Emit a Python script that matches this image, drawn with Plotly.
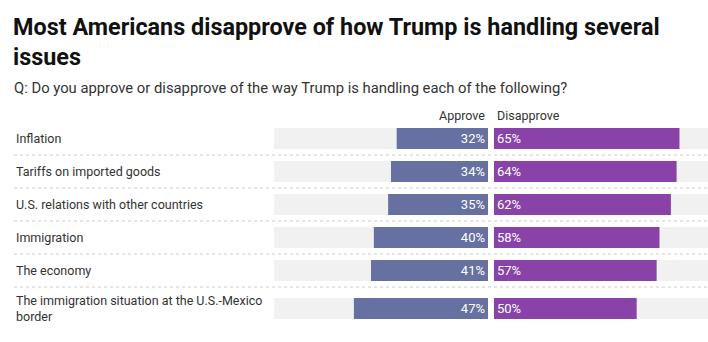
import plotly.graph_objects as go

# Survey data
issues = [
    "Inflation",
    "Tariffs on imported goods",
    "U.S. relations with other countries",
    "Immigration",
    "The economy",
    "The immigration situation at the U.S.-Mexico<br>border",
]
approve = [32, 34, 35, 40, 41, 47]
disapprove = [65, 64, 62, 58, 57, 50]
scale_max = 75

# Styling
W, H = 708, 342
APPROVE_COLOR = "#6670a1"
DISAPPROVE_COLOR = "#8842a8"
TRACK_COLOR = "#f1f1f1"
TEXT_COLOR = "#333333"
FONT = "Roboto"

ROW_H = 33          # height of a single-line row, px
LINE_EXTRA = 10     # extra height for every additional label line, px
BAR_H = 21
TOP = 122           # top of the first row, px

# Row geometry derived from the number of label lines
row_heights = [ROW_H + LINE_EXTRA * s.count("<br>") for s in issues]
centers, edges = [], []
acc = 0
for h in row_heights:
    centers.append(acc + h / 2)
    acc += h
    edges.append(acc)
total_h = acc


def px(x):
    return x / W


def py(y):
    return 1 - y / H


fig = go.Figure()

track = [scale_max] * len(issues)

# Left panel (approve), drawn towards the left
fig.add_trace(go.Bar(
    y=centers, x=track, orientation="h", width=BAR_H,
    marker=dict(color=TRACK_COLOR, line_width=0),
    xaxis="x", yaxis="y", hoverinfo="skip", showlegend=False,
))
fig.add_trace(go.Bar(
    y=centers, x=approve, orientation="h", width=BAR_H,
    marker=dict(color=APPROVE_COLOR, line_width=0),
    text=[f"{v}%" for v in approve], textposition="inside",
    insidetextanchor="start", textangle=0,
    textfont=dict(family=FONT, size=13, color="white"),
    xaxis="x", yaxis="y", name="Approve", showlegend=False,
))

# Right panel (disapprove)
fig.add_trace(go.Bar(
    y=centers, x=track, orientation="h", width=BAR_H,
    marker=dict(color=TRACK_COLOR, line_width=0),
    xaxis="x2", yaxis="y", hoverinfo="skip", showlegend=False,
))
fig.add_trace(go.Bar(
    y=centers, x=disapprove, orientation="h", width=BAR_H,
    marker=dict(color=DISAPPROVE_COLOR, line_width=0),
    text=[f"{v}%" for v in disapprove], textposition="inside",
    insidetextanchor="start", textangle=0,
    textfont=dict(family=FONT, size=13, color="white"),
    xaxis="x2", yaxis="y", name="Disapprove", showlegend=False,
))

annotations = [
    dict(text="<b>Most Americans disapprove of how Trump is handling several<br>issues</b>",
         x=px(11), y=py(11), xref="paper", yref="paper", xanchor="left", yanchor="top",
         align="left", showarrow=False,
         font=dict(family=FONT, size=23.4, color="#111111")),
    dict(text="Q: Do you approve or disapprove of the way Trump is handling each of the following?",
         x=px(12), y=py(88), xref="paper", yref="paper", xanchor="left", yanchor="middle",
         showarrow=False, font=dict(family=FONT, size=14.8, color=TEXT_COLOR)),
    dict(text="Approve", x=px(487), y=py(115), xref="paper", yref="paper",
         xanchor="right", yanchor="middle", showarrow=False,
         font=dict(family=FONT, size=12.5, color=TEXT_COLOR)),
    dict(text="Disapprove", x=px(495), y=py(115), xref="paper", yref="paper",
         xanchor="left", yanchor="middle", showarrow=False,
         font=dict(family=FONT, size=12.5, color=TEXT_COLOR)),
]
for label, c in zip(issues, centers):
    annotations.append(dict(
        text=label, x=px(14), y=c, xref="paper", yref="y",
        xanchor="left", yanchor="middle", align="left", showarrow=False,
        font=dict(family=FONT, size=12.5, color=TEXT_COLOR),
    ))

# Dotted row separators
shapes = [
    dict(type="line", xref="paper", yref="y", x0=px(14), x1=1, y0=e, y1=e,
         line=dict(color="#cccccc", width=1, dash="dot"))
    for e in edges[:-1]
]

axis_common = dict(showgrid=False, zeroline=False, showticklabels=False,
                   showline=False, fixedrange=True)
fig.update_layout(
    width=W, height=H,
    margin=dict(l=0, r=0, t=0, b=0),
    paper_bgcolor="white", plot_bgcolor="white",
    barmode="overlay",
    xaxis=dict(domain=[px(274), px(488)], range=[scale_max, 0], **axis_common),
    xaxis2=dict(domain=[px(494), 1], range=[0, scale_max], anchor="y", **axis_common),
    yaxis=dict(domain=[py(TOP + total_h), py(TOP)], range=[total_h, 0], **axis_common),
    annotations=annotations,
    shapes=shapes,
    font=dict(family=FONT),
)

fig.write_html("out.html")
